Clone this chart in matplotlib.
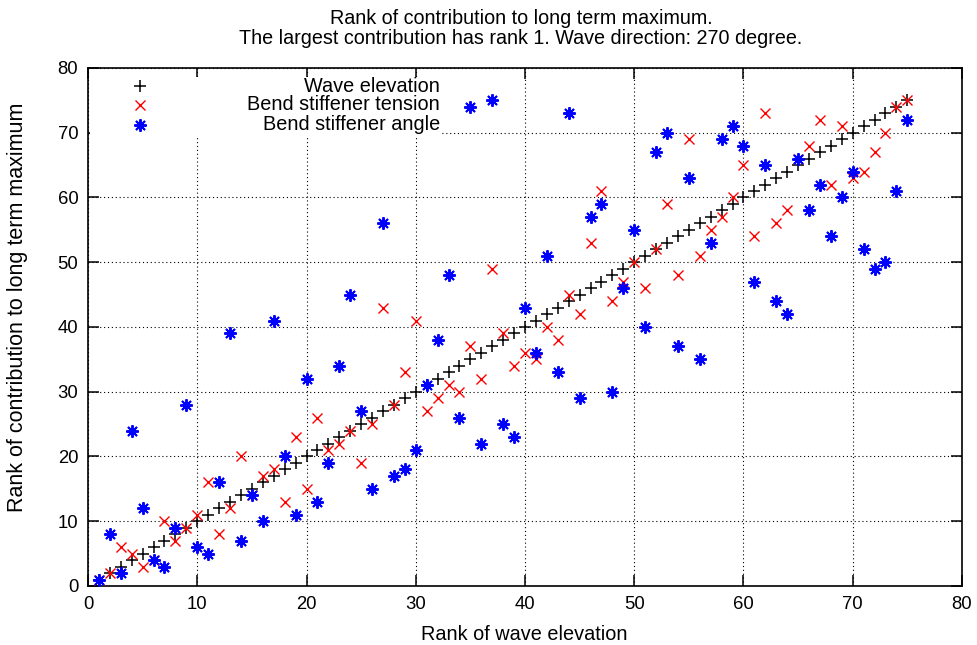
import numpy as np
import matplotlib
matplotlib.use("Agg")
import matplotlib.pyplot as plt
from matplotlib.patches import Rectangle

plt.rcParams['font.family'] = ['Liberation Sans', 'DejaVu Sans']

# rank of wave elevation (x) and the rank of each response at that sea state
wave_rank = np.arange(1, 76)
wave_elevation = np.arange(1, 76)
bend_tension = [1, 2, 6, 5, 3, 4, 10, 7, 9, 11, 16, 8, 12, 20, 14, 17, 18, 13, 23, 15,
                26, 21, 22, 24, 19, 25, 43, 28, 33, 41, 27, 29, 31, 30, 37, 32, 49, 39, 34, 36,
                35, 40, 38, 45, 42, 53, 61, 44, 47, 50, 46, 52, 59, 48, 69, 51, 55, 57, 60, 65,
                54, 73, 56, 58, 66, 68, 72, 62, 71, 63, 64, 67, 70, 74, 75]
bend_angle = [1, 8, 2, 24, 12, 4, 3, 9, 28, 6, 5, 16, 39, 7, 14, 10, 41, 20, 11, 32,
              13, 19, 34, 45, 27, 15, 56, 17, 18, 21, 31, 38, 48, 26, 74, 22, 75, 25, 23, 43,
              36, 51, 33, 73, 29, 57, 59, 30, 46, 55, 40, 67, 70, 37, 63, 35, 53, 69, 71, 68,
              47, 65, 44, 42, 66, 58, 62, 54, 60, 64, 52, 49, 50, 61, 72]

series_labels = ["Wave elevation", "Bend stiffener tension", "Bend stiffener angle"]
tick_values = np.arange(0, 81, 10)

W, H = 978, 645
fig = plt.figure(figsize=(W / 100, H / 100), dpi=100)
ax = fig.add_axes([0.090, 0.0915, 0.8936, 0.8031])

ax.set_xlim(0, 80)
ax.set_ylim(0, 80)
ax.set_xticks(tick_values)
ax.set_yticks(tick_values)
ax.tick_params(direction='in', length=8, width=1.1, top=True, right=True,
               labelsize=13.3, pad=7)
for s in ax.spines.values():
    s.set_linewidth(1.2)
ax.grid(True, color='black', linestyle=(0, (1, 2.5)), linewidth=0.8)
ax.set_axisbelow(True)

asterisk = (8, 2, 0)
styles = [dict(marker='+', color='black', ms=8, mew=1.1),
          dict(marker='x', color='red', ms=7, mew=1.0),
          dict(marker=asterisk, color='blue', ms=9, mew=1.4)]
data = [wave_elevation, bend_tension, bend_angle]

for ys, st in zip(data, styles):
    ax.plot(wave_rank, ys, linestyle='none', zorder=3, **st)

# key: opaque area over the grid, sample on the left, text right-justified
ax.add_patch(Rectangle((0.002, 0.869), 0.403, 0.113, transform=ax.transAxes,
                       facecolor='white', edgecolor='none', zorder=2))
key_y = [0.965, 0.9286, 0.890]
for ky, label, st in zip(key_y, series_labels, styles):
    ax.plot([0.0595], [ky], transform=ax.transAxes, linestyle='none', zorder=4, **st)
    ax.text(0.4027, ky, label, transform=ax.transAxes, ha='right', va='center',
            fontsize=14.3, zorder=4)

# axis labels and the two title lines, placed in figure pixels
fig.text(524 / W, 1 - 634 / H, "Rank of wave elevation",
         ha='center', va='center', fontsize=14.3)
fig.text(18 / W, 1 - 307 / H, "Rank of contribution to long term maximum",
         ha='center', va='center', rotation=90, fontsize=15.5)
fig.text(521 / W, 1 - 18 / H, "Rank of contribution to long term maximum.",
         ha='center', va='center', fontsize=14.2)
fig.text(521 / W, 1 - 38 / H,
         "The largest contribution has rank 1. Wave direction: 270 degree.",
         ha='center', va='center', fontsize=14.2)

fig.savefig("out.png", dpi=100, facecolor='white')
